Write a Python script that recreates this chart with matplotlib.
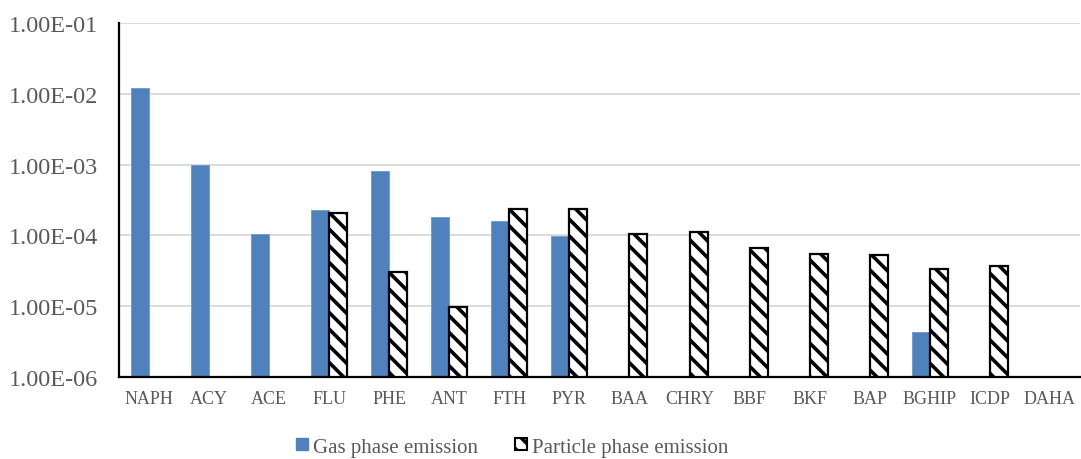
import numpy as np
import matplotlib
matplotlib.use("Agg")
import matplotlib.pyplot as plt
from matplotlib.patches import Patch
from matplotlib.ticker import FixedLocator, FuncFormatter, NullLocator

compounds = ["NAPH", "ACY", "ACE", "FLU", "PHE", "ANT", "FTH", "PYR",
             "BAA", "CHRY", "BBF", "BKF", "BAP", "BGHIP", "ICDP", "DAHA"]
gas = [1.2e-2, 9.9e-4, 1.05e-4, 2.3e-4, 8.2e-4, 1.8e-4, 1.6e-4, 9.7e-5,
       np.nan, np.nan, np.nan, np.nan, np.nan, 4.3e-6, np.nan, np.nan]
particle = [np.nan, np.nan, np.nan, 2.07e-4, 3.07e-5, 9.8e-6, 2.36e-4, 2.38e-4,
            1.05e-4, 1.13e-4, 6.7e-5, 5.5e-5, 5.35e-5, 3.35e-5, 3.73e-5, np.nan]

plt.rcParams["font.family"] = ["Liberation Serif", "DejaVu Serif"]
plt.rcParams["hatch.linewidth"] = 2.6

fig = plt.figure(figsize=(10.81, 4.6), dpi=100)
ax = fig.add_axes([0.110, 0.178, 0.889, 0.770])

x = np.arange(len(compounds))
w = 0.3
ax.bar(x - w / 2, gas, w, color="#4F81BD", edgecolor="#6F98CC", linewidth=0.6,
       zorder=3)
ax.bar(x + w / 2, particle, w, color="white", edgecolor="black", linewidth=1.6,
       hatch="\\\\", zorder=3)

ax.set_yscale("log")
ax.set_ylim(1e-6, 1e-1)
ax.set_xlim(-0.5, len(compounds) - 0.5)
ax.yaxis.set_major_locator(FixedLocator([1e-6, 1e-5, 1e-4, 1e-3, 1e-2, 1e-1]))
ax.yaxis.set_minor_locator(NullLocator())
ax.yaxis.set_major_formatter(FuncFormatter(lambda v, p: "1.00E-%02d" % round(-np.log10(v))))
ax.set_xticks(x)
ax.set_xticklabels(compounds)

ax.grid(axis="y", color="#D9D9D9", linewidth=1.3, zorder=0)
ax.set_axisbelow(True)
for s in ["top", "right"]:
    ax.spines[s].set_visible(False)
ax.spines["left"].set_linewidth(1.6)
ax.spines["bottom"].set_linewidth(1.6)
ax.spines["bottom"].set_zorder(4)

ax.tick_params(axis="y", length=0, pad=15, labelsize=17.5, labelcolor="#595959")
ax.tick_params(axis="x", length=0, pad=9, labelsize=13, labelcolor="#595959")

handles = [Patch(facecolor="#4F81BD", edgecolor="#4F81BD", label="Gas phase emission"),
           Patch(facecolor="white", edgecolor="black", hatch="\\\\", linewidth=1.5,
                 label="Particle phase emission")]
leg = fig.legend(handles=handles, loc="center", bbox_to_anchor=(0.474, 0.026), ncol=2,
                 frameon=False, fontsize=15, handlelength=0.55, handleheight=0.55,
                 handletextpad=0.25, columnspacing=1.8, borderaxespad=0)
for t in leg.get_texts():
    t.set_color("#595959")

plt.savefig("out.png", dpi=100)
